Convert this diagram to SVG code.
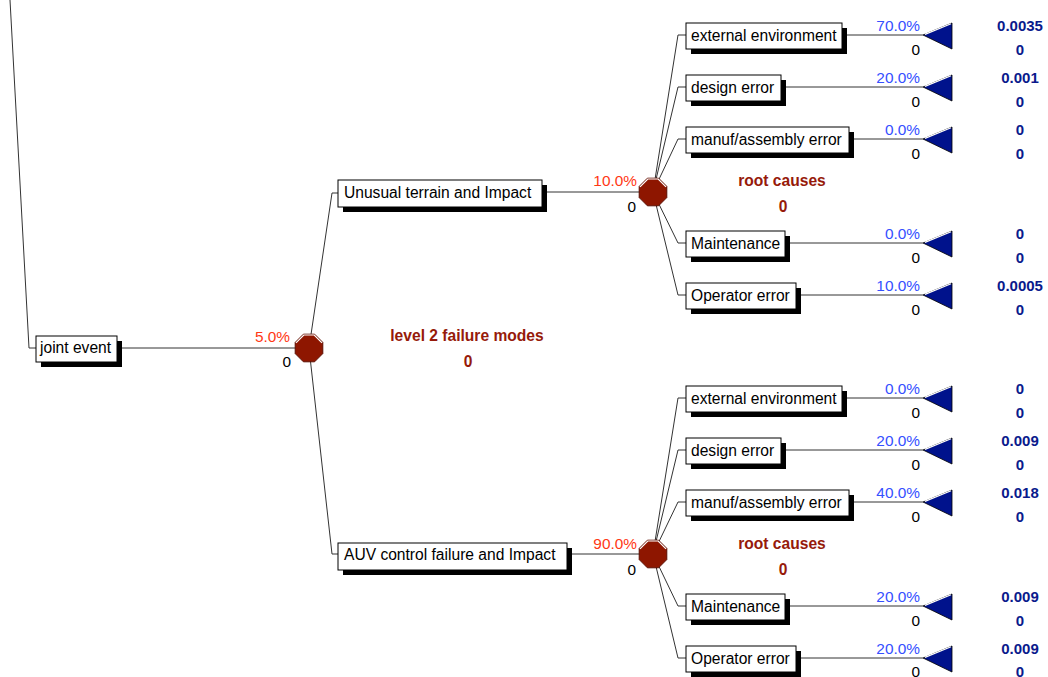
<svg xmlns="http://www.w3.org/2000/svg" width="1048" height="677" viewBox="0 0 1048 677">
  <style>
    .ln { stroke: #333; stroke-width: 1; fill: none; }
    .box { fill: #fff; stroke: #000; stroke-width: 1; }
    .sh { fill: #000; }
    .lbl { font-family: "Liberation Sans", Arial, sans-serif; font-size: 15.6px; fill: #000; }
    .pc { font-family: "Liberation Sans", Arial, sans-serif; font-size: 15.4px; fill: #FF3814; text-anchor: end; }
    .pt { font-family: "Liberation Sans", Arial, sans-serif; font-size: 15.4px; fill: #3550FF; text-anchor: end; }
    .z { font-family: "Liberation Sans", Arial, sans-serif; font-size: 15.4px; fill: #000; text-anchor: end; }
    .val { font-family: "Liberation Sans", Arial, sans-serif; font-size: 15px; font-weight: bold; fill: #0A1A8C; text-anchor: middle; }
    .ttl { font-family: "Liberation Sans", Arial, sans-serif; font-size: 15.6px; font-weight: bold; fill: #961A0A; text-anchor: middle; }
    .oct { fill: #8E1600; stroke: #5a0d00; stroke-width: 1; }
    .hi { stroke: #fff; stroke-width: 1.2; fill: none; }
    .tri { fill: #00128C; stroke: #000; stroke-width: 0.8; }
  </style>
  <defs>
    <!-- chance node: flat-topped octagon with a light upper rim -->
    <g id="chance">
      <polygon class="oct" points="-5.6,-13.8 5.6,-13.8 13.8,-5.6 13.8,5.6 5.6,13.8 -5.6,13.8 -13.8,5.6 -13.8,-5.6"/>
      <polyline class="hi" points="-13,-5.2 -5.2,-13 5.2,-13 13,-5.2"/>
    </g>
    <!-- terminal node: left-pointing triangle -->
    <g id="term">
      <polygon class="tri" points="0,0 29,-12 29,14"/>
      <line x1="2" y1="-0.6" x2="28" y2="-11.2" stroke="#fff" stroke-width="1.2"/>
    </g>
  </defs>

  <!-- connectors -->
  <g id="connectors">
    <polyline class="ln" points="10,0 29,348 36,348"/>
    <line class="ln" x1="122" y1="348" x2="309" y2="348"/>
    <polyline class="ln" points="309,348 332,193 338,193"/>
    <polyline class="ln" points="309,348 332,554 338,554"/>
    <line class="ln" x1="547" y1="192" x2="653" y2="192"/>
    <line class="ln" x1="572" y1="554" x2="653" y2="554"/>

    <polyline class="ln" points="653,192 678,35 686,35"/>
    <polyline class="ln" points="653,192 678,87 686,87"/>
    <polyline class="ln" points="653,192 678,139 686,139"/>
    <polyline class="ln" points="653,192 678,243 686,243"/>
    <polyline class="ln" points="653,192 678,295 686,295"/>
    <line class="ln" x1="847" y1="35" x2="923" y2="35"/>
    <line class="ln" x1="786" y1="87" x2="923" y2="87"/>
    <line class="ln" x1="854" y1="139" x2="923" y2="139"/>
    <line class="ln" x1="790" y1="243" x2="923" y2="243"/>
    <line class="ln" x1="801" y1="295" x2="923" y2="295"/>

    <polyline class="ln" points="653,554 678,398 686,398"/>
    <polyline class="ln" points="653,554 678,450 686,450"/>
    <polyline class="ln" points="653,554 678,502 686,502"/>
    <polyline class="ln" points="653,554 678,606 686,606"/>
    <polyline class="ln" points="653,554 678,658 686,658"/>
    <line class="ln" x1="847" y1="398" x2="923" y2="398"/>
    <line class="ln" x1="786" y1="450" x2="923" y2="450"/>
    <line class="ln" x1="854" y1="502" x2="923" y2="502"/>
    <line class="ln" x1="790" y1="606" x2="923" y2="606"/>
    <line class="ln" x1="801" y1="658" x2="923" y2="658"/>
  </g>

  <!-- root -->
  <g id="joint-event">
    <rect class="sh" x="41" y="341" width="81" height="26"/>
    <rect class="box" x="36" y="336" width="81" height="26"/>
    <text class="lbl" x="40" y="353">joint event</text>
  </g>

  <!-- level 2 failure modes -->
  <g id="level2-node">
    <use href="#chance" x="309" y="348"/>
    <text class="pc" x="290" y="342">5.0%</text>
    <text class="z" x="291" y="367">0</text>
    <text class="ttl" x="467" y="341">level 2 failure modes</text>
    <text class="ttl" x="468" y="367">0</text>
  </g>

  <g id="unusual-terrain">
    <rect class="sh" x="343" y="185" width="204" height="27"/>
    <rect class="box" x="338" y="180" width="204" height="27"/>
    <text class="lbl" x="344" y="198">Unusual terrain and Impact</text>
  </g>
  <g id="auv-control">
    <rect class="sh" x="343" y="548" width="229" height="27"/>
    <rect class="box" x="338" y="543" width="229" height="27"/>
    <text class="lbl" x="344" y="560">AUV control failure and Impact</text>
  </g>

  <!-- root causes, upper branch -->
  <g id="root-causes-1">
    <use href="#chance" x="653" y="192"/>
    <text class="pc" x="637" y="186">10.0%</text>
    <text class="z" x="636" y="212">0</text>
    <text class="ttl" x="782" y="186">root causes</text>
    <text class="ttl" x="783" y="212">0</text>
  </g>
  <g id="ext-env-1">
    <rect class="sh" x="691" y="28" width="156" height="26"/>
    <rect class="box" x="686" y="23" width="156" height="26"/>
    <text class="lbl" x="691" y="41">external environment</text>
    <use href="#term" x="923" y="35"/>
    <text class="pt" x="920" y="31">70.0%</text>
    <text class="z" x="920" y="55">0</text>
    <text class="val" x="1020" y="31">0.0035</text>
    <text class="val" x="1020" y="55">0</text>
  </g>
  <g id="design-1">
    <rect class="sh" x="691" y="80" width="95" height="26"/>
    <rect class="box" x="686" y="75" width="95" height="26"/>
    <text class="lbl" x="691" y="93">design error</text>
    <use href="#term" x="923" y="87"/>
    <text class="pt" x="920" y="83">20.0%</text>
    <text class="z" x="920" y="107">0</text>
    <text class="val" x="1020" y="83">0.001</text>
    <text class="val" x="1020" y="107">0</text>
  </g>
  <g id="manuf-1">
    <rect class="sh" x="691" y="132" width="163" height="26"/>
    <rect class="box" x="686" y="127" width="163" height="26"/>
    <text class="lbl" x="691" y="145">manuf/assembly error</text>
    <use href="#term" x="923" y="139"/>
    <text class="pt" x="920" y="135">0.0%</text>
    <text class="z" x="920" y="159">0</text>
    <text class="val" x="1020" y="135">0</text>
    <text class="val" x="1020" y="159">0</text>
  </g>
  <g id="maint-1">
    <rect class="sh" x="691" y="236" width="99" height="26"/>
    <rect class="box" x="686" y="231" width="99" height="26"/>
    <text class="lbl" x="691" y="249">Maintenance</text>
    <use href="#term" x="923" y="243"/>
    <text class="pt" x="920" y="239">0.0%</text>
    <text class="z" x="920" y="263">0</text>
    <text class="val" x="1020" y="239">0</text>
    <text class="val" x="1020" y="263">0</text>
  </g>
  <g id="operator-1">
    <rect class="sh" x="691" y="288" width="110" height="26"/>
    <rect class="box" x="686" y="283" width="110" height="26"/>
    <text class="lbl" x="691" y="301">Operator error</text>
    <use href="#term" x="923" y="295"/>
    <text class="pt" x="920" y="291">10.0%</text>
    <text class="z" x="920" y="315">0</text>
    <text class="val" x="1020" y="291">0.0005</text>
    <text class="val" x="1020" y="315">0</text>
  </g>

  <!-- root causes, lower branch -->
  <g id="root-causes-2">
    <use href="#chance" x="653" y="554"/>
    <text class="pc" x="637" y="549">90.0%</text>
    <text class="z" x="636" y="575">0</text>
    <text class="ttl" x="782" y="549">root causes</text>
    <text class="ttl" x="783" y="575">0</text>
  </g>
  <g id="ext-env-2">
    <rect class="sh" x="691" y="391" width="156" height="26"/>
    <rect class="box" x="686" y="386" width="156" height="26"/>
    <text class="lbl" x="691" y="404">external environment</text>
    <use href="#term" x="923" y="398"/>
    <text class="pt" x="920" y="394">0.0%</text>
    <text class="z" x="920" y="418">0</text>
    <text class="val" x="1020" y="394">0</text>
    <text class="val" x="1020" y="418">0</text>
  </g>
  <g id="design-2">
    <rect class="sh" x="691" y="443" width="95" height="26"/>
    <rect class="box" x="686" y="438" width="95" height="26"/>
    <text class="lbl" x="691" y="456">design error</text>
    <use href="#term" x="923" y="450"/>
    <text class="pt" x="920" y="446">20.0%</text>
    <text class="z" x="920" y="470">0</text>
    <text class="val" x="1020" y="446">0.009</text>
    <text class="val" x="1020" y="470">0</text>
  </g>
  <g id="manuf-2">
    <rect class="sh" x="691" y="495" width="163" height="26"/>
    <rect class="box" x="686" y="490" width="163" height="26"/>
    <text class="lbl" x="691" y="508">manuf/assembly error</text>
    <use href="#term" x="923" y="502"/>
    <text class="pt" x="920" y="498">40.0%</text>
    <text class="z" x="920" y="522">0</text>
    <text class="val" x="1020" y="498">0.018</text>
    <text class="val" x="1020" y="522">0</text>
  </g>
  <g id="maint-2">
    <rect class="sh" x="691" y="599" width="99" height="26"/>
    <rect class="box" x="686" y="594" width="99" height="26"/>
    <text class="lbl" x="691" y="612">Maintenance</text>
    <use href="#term" x="923" y="606"/>
    <text class="pt" x="920" y="602">20.0%</text>
    <text class="z" x="920" y="626">0</text>
    <text class="val" x="1020" y="602">0.009</text>
    <text class="val" x="1020" y="626">0</text>
  </g>
  <g id="operator-2">
    <rect class="sh" x="691" y="651" width="110" height="26"/>
    <rect class="box" x="686" y="646" width="110" height="26"/>
    <text class="lbl" x="691" y="664">Operator error</text>
    <use href="#term" x="923" y="658"/>
    <text class="pt" x="920" y="654">20.0%</text>
    <text class="z" x="920" y="677">0</text>
    <text class="val" x="1020" y="654">0.009</text>
    <text class="val" x="1020" y="677">0</text>
  </g>
</svg>
